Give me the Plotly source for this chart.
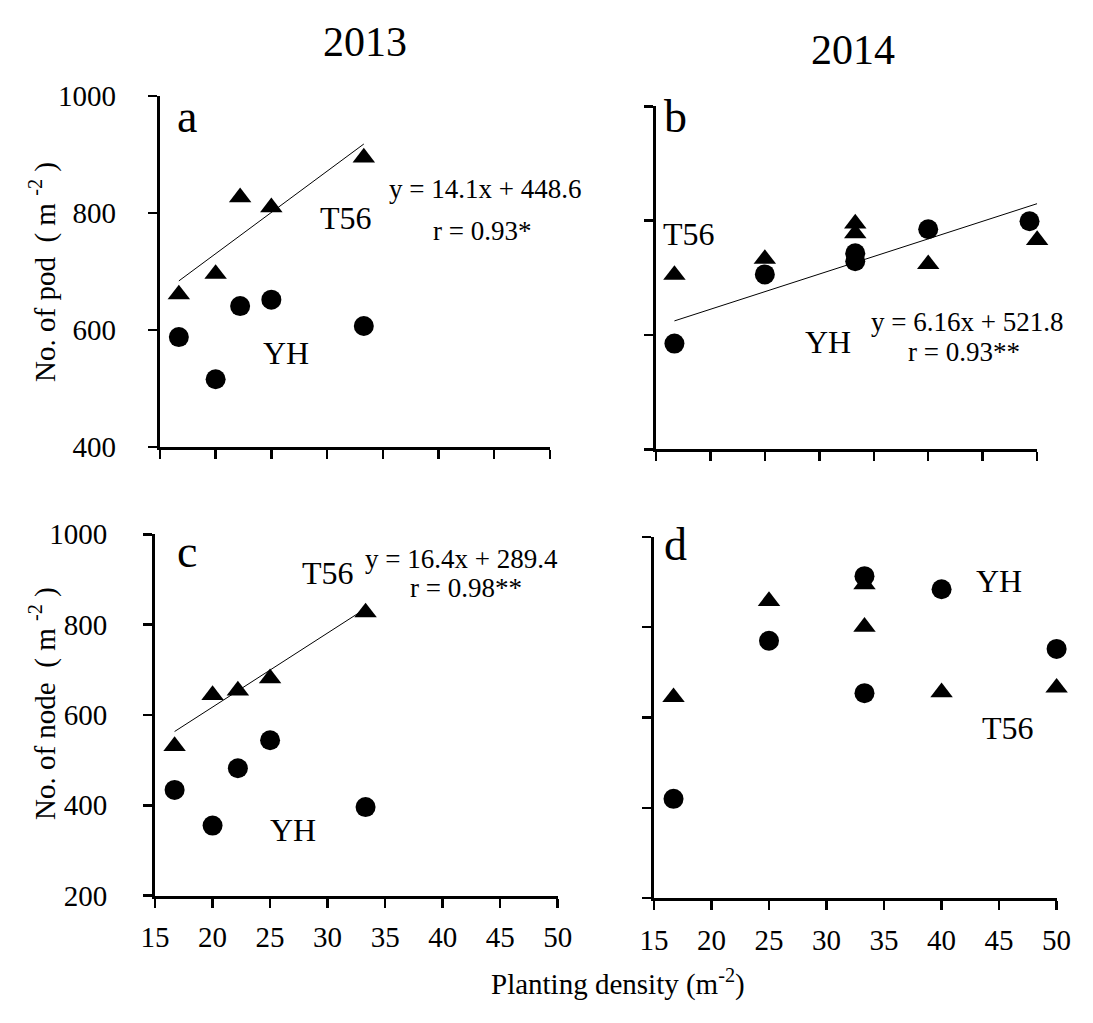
import plotly.graph_objects as go

# ---------------- data ----------------
# 2013 (panels a, c)
dens_2013 = [16.7, 20.0, 22.2, 25.0, 33.3]
pod_t56_2013 = [661, 696, 827, 810, 895]
pod_yh_2013 = [588, 516, 641, 652, 607]
node_t56_2013 = [531, 644, 654, 681, 827]
node_yh_2013 = [434, 355, 482, 544, 396]

# 2014 (panels b, d)
dens_2014_t56_pod = [16.7, 25.0, 33.3, 33.3, 40.0, 50.0]
pod_t56_2014 = [705, 733, 795, 778, 724, 766]
dens_2014_yh_pod = [16.7, 25.0, 33.3, 33.3, 40.0, 49.3]
pod_yh_2014 = [585, 706, 743, 729, 785, 799]
dens_2014 = [16.7, 25.0, 33.3, 33.3, 40.0, 50.0]
node_t56_2014 = [645, 858, 895, 801, 656, 666]
node_yh_2014 = [420, 770, 913, 654, 884, 752]

# regression lines (from the printed equations) and their x extent
reg_a = {"slope": 14.1, "intercept": 448.6, "x": [16.7, 33.3]}
reg_b = {"slope": 6.16, "intercept": 521.8, "x": [16.7, 50.0]}
reg_c = {"slope": 16.4, "intercept": 289.4, "x": [16.7, 33.3]}

x_ticks = [15, 20, 25, 30, 35, 40, 45, 50]

# ---------------- figure ----------------
FONT = "Liberation Serif"
W, H = 1093, 1023

fig = go.Figure()

def add_points(x, y, sym, xa, ya):
    fig.add_trace(go.Scatter(
        x=x, y=y, mode="markers", xaxis=xa, yaxis=ya, cliponaxis=False,
        marker=dict(symbol=sym, size=20 if sym == "circle" else 19.5, color="black",
                    line=dict(width=0)),
        showlegend=False, hoverinfo="skip"))

def add_reg(reg, xa, ya):
    xs = reg["x"]
    ys = [reg["slope"] * v + reg["intercept"] for v in xs]
    fig.add_trace(go.Scatter(x=xs, y=ys, mode="lines", xaxis=xa, yaxis=ya,
                             line=dict(color="black", width=1),
                             showlegend=False, hoverinfo="skip"))

# panel a
add_reg(reg_a, "x", "y")
add_points(dens_2013, pod_t56_2013, "triangle-up", "x", "y")
add_points(dens_2013, pod_yh_2013, "circle", "x", "y")
# panel b
add_reg(reg_b, "x2", "y2")
add_points(dens_2014_t56_pod, pod_t56_2014, "triangle-up", "x2", "y2")
add_points(dens_2014_yh_pod, pod_yh_2014, "circle", "x2", "y2")
# panel c
add_reg(reg_c, "x3", "y3")
add_points(dens_2013, node_t56_2013, "triangle-up", "x3", "y3")
add_points(dens_2013, node_yh_2013, "circle", "x3", "y3")
# panel d
add_points(dens_2014, node_t56_2014, "triangle-up", "x4", "y4")
add_points(dens_2014, node_yh_2014, "circle", "x4", "y4")

def px_dom(p0, p1, total):
    return [p0 / total, p1 / total]

def py_dom(top, bottom):
    return [1 - bottom / H, 1 - top / H]

tickfont = dict(family=FONT, size=29, color="black")

def xaxis(dom, anchor, labels):
    return dict(domain=dom, anchor=anchor, range=[15, 50], tickvals=x_ticks,
                showline=True, linewidth=3, linecolor="black", mirror=False,
                ticks="outside", ticklen=9, tickwidth=2.5, tickcolor="black",
                showgrid=False, zeroline=False, showticklabels=labels,
                tickfont=tickfont, ticklabelstandoff=5, fixedrange=True)

def yaxis(dom, anchor, rng, labels, standoff):
    return dict(domain=dom, anchor=anchor, range=rng, dtick=200, tick0=rng[0],
                showline=True, linewidth=3, linecolor="black",
                ticks="outside", ticklen=9, tickwidth=2.5, tickcolor="black",
                showgrid=False, zeroline=False, showticklabels=labels,
                tickfont=tickfont, ticklabelstandoff=standoff, fixedrange=True)

fig.update_layout(
    width=W, height=H, autosize=False,
    margin=dict(l=0, r=0, t=0, b=0, pad=0),
    paper_bgcolor="white", plot_bgcolor="white",
    font=dict(family=FONT, color="black"),
    xaxis=xaxis(px_dom(149, 550, W), "y", False),
    yaxis=yaxis(py_dom(82.7, 445), "x", [400, 1000], True, 26),
    xaxis2=xaxis(px_dom(659, 1051, W), "y2", False),
    yaxis2=yaxis(py_dom(93.3, 447.3), "x2", [400, 1000], False, 26),
    xaxis3=xaxis(px_dom(144, 558, W), "y3", True),
    yaxis3=yaxis(py_dom(535, 908), "x3", [200, 1000], True, 30),
    xaxis4=xaxis(px_dom(657, 1071, W), "y4", True),
    yaxis4=yaxis(py_dom(537.7, 910.7), "x4", [200, 1000], False, 26),
)

ann = []

def note(text, x, y, xref, yref, size, **kw):
    d = dict(text=text, x=x, y=y, xref=xref, yref=yref, showarrow=False,
             font=dict(family=FONT, size=size, color="black"),
             xanchor="center", yanchor="middle", borderpad=0)
    d.update(kw)
    ann.append(d)

# column titles
note("2013", 360 / W, 1 - 27 / H, "paper", "paper", 42)
note("2014", 862 / W, 1 - 35 / H, "paper", "paper", 42)

# axis titles
note("No. of pod  ( m <sup>-2</sup> )", 29 / W, 1 - 264 / H, "paper", "paper", 29, textangle=-90)
note("No. of node  ( m <sup>-2</sup> )", 29 / W, 1 - 710 / H, "paper", "paper", 29, textangle=-90)
note("Planting density (m<sup>-2</sup>)", 620 / W, 1 - 998 / H, "paper", "paper", 29)

# panel a
note("a", 17.4, 966, "x", "y", 46)
note("T56", 31.7, 792, "x", "y", 32)
note("YH", 26.3, 561, "x", "y", 32)
note("y = 14.1x + 448.6", 44.2, 842, "x", "y", 27)
note("r = 0.93*", 43.9, 769, "x", "y", 27)
# panel b
note("b", 16.8, 983, "x2", "y2", 46)
note("T56", 18.0, 776, "x2", "y2", 32)
note("YH", 30.8, 587, "x2", "y2", 32)
note("y = 6.16x + 521.8", 43.6, 622, "x2", "y2", 27)
note("r = 0.93**", 43.3, 571, "x2", "y2", 27)
# panel c
note("c", 17.8, 962, "x3", "y3", 46)
note("T56", 30.0, 914, "x3", "y3", 32)
note("YH", 27.0, 346, "x3", "y3", 32)
note("y = 16.4x + 289.4", 41.6, 946, "x3", "y3", 27)
note("r = 0.98**", 42.0, 882, "x3", "y3", 27)
# panel d
note("d", 16.9, 984, "x4", "y4", 46)
note("YH", 45.0, 902, "x4", "y4", 32)
note("T56", 45.8, 577, "x4", "y4", 32)

fig.update_layout(annotations=ann)

fig.write_html("out.html",
               config={"displayModeBar": False, "staticPlot": True},
               post_script="document.body.style.margin='0';document.body.style.overflow='hidden';")
